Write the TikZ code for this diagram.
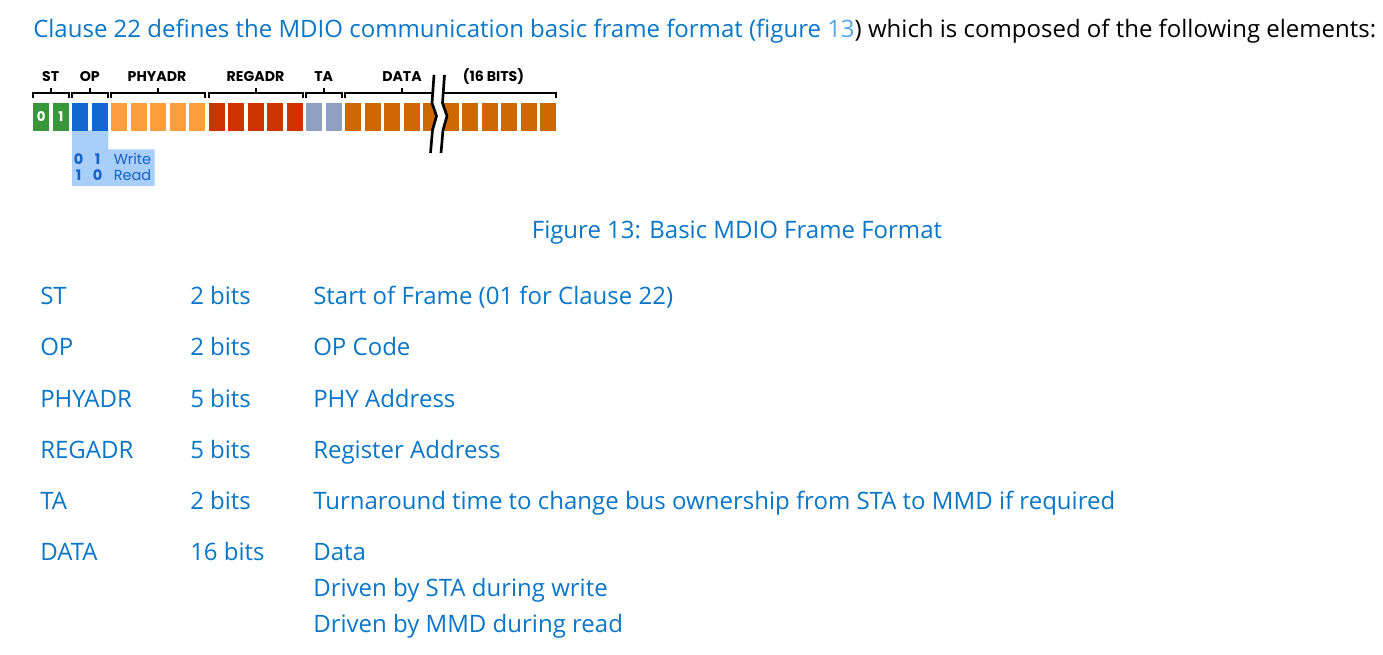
\documentclass[tikz,border=0pt]{standalone}
\usepackage{fontspec}
\setmainfont{Open Sans}
\newfontfamily\geo{Poppins}
\definecolor{linkblue}{RGB}{10,118,200}
\definecolor{lightblue}{RGB}{85,165,235}
\definecolor{cst}{RGB}{58,150,58}
\definecolor{cop}{RGB}{18,102,205}
\definecolor{cphy}{RGB}{255,158,58}
\definecolor{creg}{RGB}{205,52,0}
\definecolor{cta}{RGB}{143,160,192}
\definecolor{cdata}{RGB}{205,104,0}
\definecolor{boxblue}{RGB}{168,206,250}
\definecolor{boxtext}{RGB}{20,98,200}
\begin{document}
\begin{tikzpicture}[x=0.75pt,y=-0.75pt,
  txt/.style={font=\fontsize{18pt}{21pt}\selectfont, inner sep=0pt, anchor=base west, text=linkblue},
  lbl/.style={font=\geo\bfseries\fontsize{10.6pt}{11pt}\selectfont, inner sep=0pt, anchor=base},
  bitcell/.style={inner sep=0pt, minimum width=12pt, minimum height=21pt, anchor=north west},
  dig/.style={font=\geo\bfseries\fontsize{10pt}{11pt}\selectfont, text=white, inner sep=0pt},
  boxtxt/.style={font=\geo\fontsize{10.9pt}{12pt}\selectfont, text=boxtext, inner sep=0pt, anchor=base},
  boxdig/.style={font=\geo\bfseries\fontsize{10.9pt}{12pt}\selectfont, text=boxtext, inner sep=0pt, anchor=base},
  brk/.style={line width=1.5pt, black},
  zig/.style={line width=2pt, black, line join=miter}]
\useasboundingbox (0,0) rectangle (1383,655);

% intro line
\node[txt] (intro) at (33,37.3) {Clause 22 defines the MDIO communication basic frame format (figure {\color{lightblue}13}{\color{black}) which is composed of the following elements:}};

% op-code box
\fill[boxblue] (72,130.5) -- (108.3,130.5) -- (108.3,149.5) -- (154.5,149.5) -- (154.5,186) -- (72,186) -- cycle;
\node[boxdig] (w0) at (78.5,164.3) {0};
\node[boxdig] (w1) at (97.5,164.3) {1};
\node[boxtxt, anchor=base west] (wr) at (113.5,164.3) {Write};
\node[boxdig] (r0) at (78.5,181) {1};
\node[boxdig] (r1) at (97.5,181) {0};
\node[boxtxt, anchor=base west] (rd) at (113.5,181) {Read};

% bit cells
\foreach \i/\c in {0/cst,1/cst,2/cop,3/cop,4/cphy,5/cphy,6/cphy,7/cphy,8/cphy,
  9/creg,10/creg,11/creg,12/creg,13/creg,14/cta,15/cta,
  16/cdata,17/cdata,18/cdata,19/cdata,20/cdata,21/cdata,22/cdata,23/cdata,24/cdata,25/cdata,26/cdata}
  \node[bitcell, fill=\c] (c\i) at ({33+19.5*\i},102.5) {};
\node[dig] (d0) at (c0) {0};
\node[dig] (d1) at (c1) {1};

% brackets
\foreach \l/\r/\m in {33/68.5/50.75, 72/107.5/89.75, 111/205/158, 208.5/302.5/255.5, 306/341.5/323.75}{
  \draw[brk] (\l,98.5) -- (\l,93.5) -- (\r,93.5) -- (\r,98.5);
  \draw[brk] (\m,93.5) -- (\m,88);
}
\draw[brk] (345,98.5) -- (345,93.5) -- (433,93.5);
\draw[brk] (402,93.5) -- (402,88);
\draw[brk] (443,93.5) -- (556,93.5) -- (556,98.5);

% labels
\node[lbl] (lst) at (50.75,81.7) {ST};
\node[lbl] (lop) at (89.75,81.7) {OP};
\node[lbl] (lphy) at (157,81.7) {PHYADR};
\node[lbl] (lreg) at (255.5,81.7) {REGADR};
\node[lbl] (lta) at (323.75,81.7) {TA};
\node[lbl] (ldata) at (402,81.7) {DATA};
\node[lbl] (lbits) at (493.5,81.7) {(16 BITS)};

% break
\fill[white] (434,75) -- (432,103) -- (436.5,116) -- (432.5,130) -- (430.5,153)
  -- (441,153) -- (443,130) -- (447,116) -- (442.5,103) -- (444.5,75) -- cycle;
\draw[zig] (434,75) -- (432,103) -- (436.5,116) -- (432.5,130) -- (430.5,153);
\draw[zig] (444.5,75) -- (442.5,103) -- (447,116) -- (443,130) -- (441,153);

% caption
\node[txt, anchor=base] (cap) at (737,238.3) {Figure 13: Basic MDIO Frame Format};

% table
\node[txt] (n1) at (40,305) {ST};
\node[txt] (b1) at (190,305) {2 bits};
\node[txt] (t1) at (313,305) {Start of Frame (01 for Clause 22)};
\node[txt] (n2) at (40,356) {OP};
\node[txt] (b2) at (190,356) {2 bits};
\node[txt] (t2) at (313,356) {OP Code};
\node[txt] (n3) at (40,407) {PHYADR};
\node[txt] (b3) at (190,407) {5 bits};
\node[txt] (t3) at (313,407) {PHY Address};
\node[txt] (n4) at (40,458) {REGADR};
\node[txt] (b4) at (190,458) {5 bits};
\node[txt] (t4) at (313,458) {Register Address};
\node[txt] (n5) at (40,509) {TA};
\node[txt] (b5) at (190,509) {2 bits};
\node[txt] (t5) at (313,509) {Turnaround time to change bus ownership from STA to MMD if required};
\node[txt] (n6) at (40,560) {DATA};
\node[txt] (b6) at (190,560) {16 bits};
\node[txt] (t6) at (313,560) {Data};
\node[txt] (t7) at (313,596) {Driven by STA during write};
\node[txt] (t8) at (313,632) {Driven by MMD during read};
\end{tikzpicture}
\end{document}
